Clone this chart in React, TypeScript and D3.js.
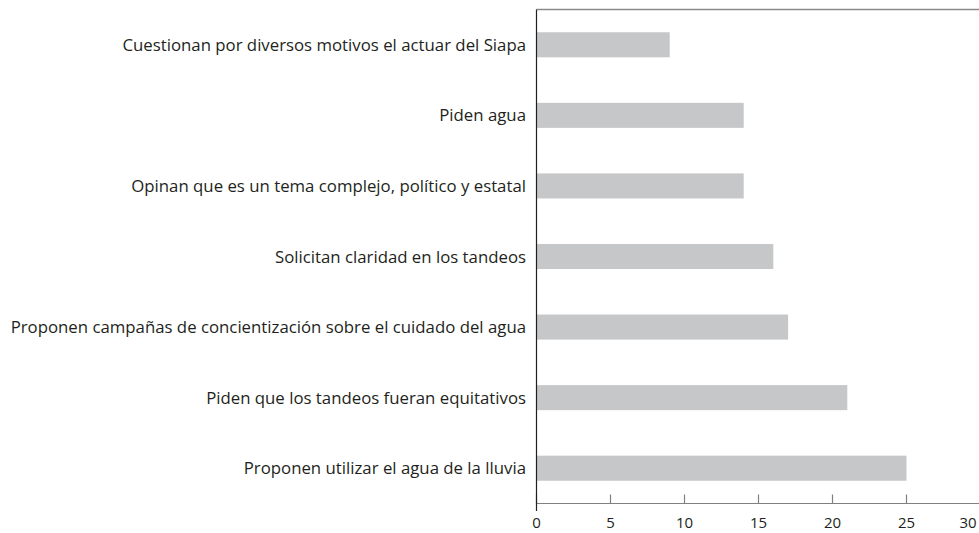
import React from "react";
import * as d3 from "d3";

const categories = [
  "Cuestionan por diversos motivos el actuar del Siapa",
  "Piden agua",
  "Opinan que es un tema complejo, político y estatal",
  "Solicitan claridad en los tandeos",
  "Proponen campañas de concientización sobre el cuidado del agua",
  "Piden que los tandeos fueran equitativos",
  "Proponen utilizar el agua de la lluvia",
];
const values = [9, 14, 14, 16, 17, 21, 25];
const tickValues = [0, 5, 10, 15, 20, 25, 30];

const W = 979;
const H = 533;
const x0 = 536.5;
const yTop = 9.5;
const yAxis = 503.5;

export default function App() {
  const x = d3.scaleLinear().domain([0, 30]).range([x0, x0 + 444]);
  const y = d3
    .scaleBand<string>()
    .domain(categories)
    .range([yTop, yAxis])
    .paddingInner(0.645)
    .paddingOuter(0.3225);
  const font = "'Open Sans', 'Noto Sans', sans-serif";
  const textColor = "#231f20";
  return (
    <svg
      width={W}
      height={H}
      style={{ position: "absolute", left: 0, top: 0, background: "#fff" }}
    >
      {categories.map((c, i) => (
        <g key={c}>
          <rect
            x={x(0)}
            y={y(c)!}
            width={x(values[i]) - x(0)}
            height={y.bandwidth()}
            fill="#c6c7c8"
          />
          <text
            x={526}
            y={y(c)! + y.bandwidth() / 2}
            dy="0.36em"
            textAnchor="end"
            fontFamily={font}
            fontSize={16.8}
            fill={textColor}
          >
            {c}
          </text>
        </g>
      ))}
      <line x1={x0} x2={W} y1={yTop} y2={yTop} stroke="#8a8a8a" strokeWidth={1.5} />
      <line x1={x0} x2={W} y1={yAxis} y2={yAxis} stroke="#808080" strokeWidth={1.2} />
      {tickValues.map((t) => (
        <g key={t}>
          <line x1={x(t)} x2={x(t)} y1={yAxis - 9} y2={yAxis} stroke="#808080" strokeWidth={1.2} />
          <text
            x={Math.min(x(t), W - 11)}
            y={528}
            textAnchor="middle"
            fontFamily={font}
            fontSize={15}
            fill={textColor}
          >
            {t}
          </text>
        </g>
      ))}
      <line x1={x0} x2={x0} y1={yTop} y2={511} stroke={textColor} strokeWidth={1.2} />
    </svg>
  );
}
